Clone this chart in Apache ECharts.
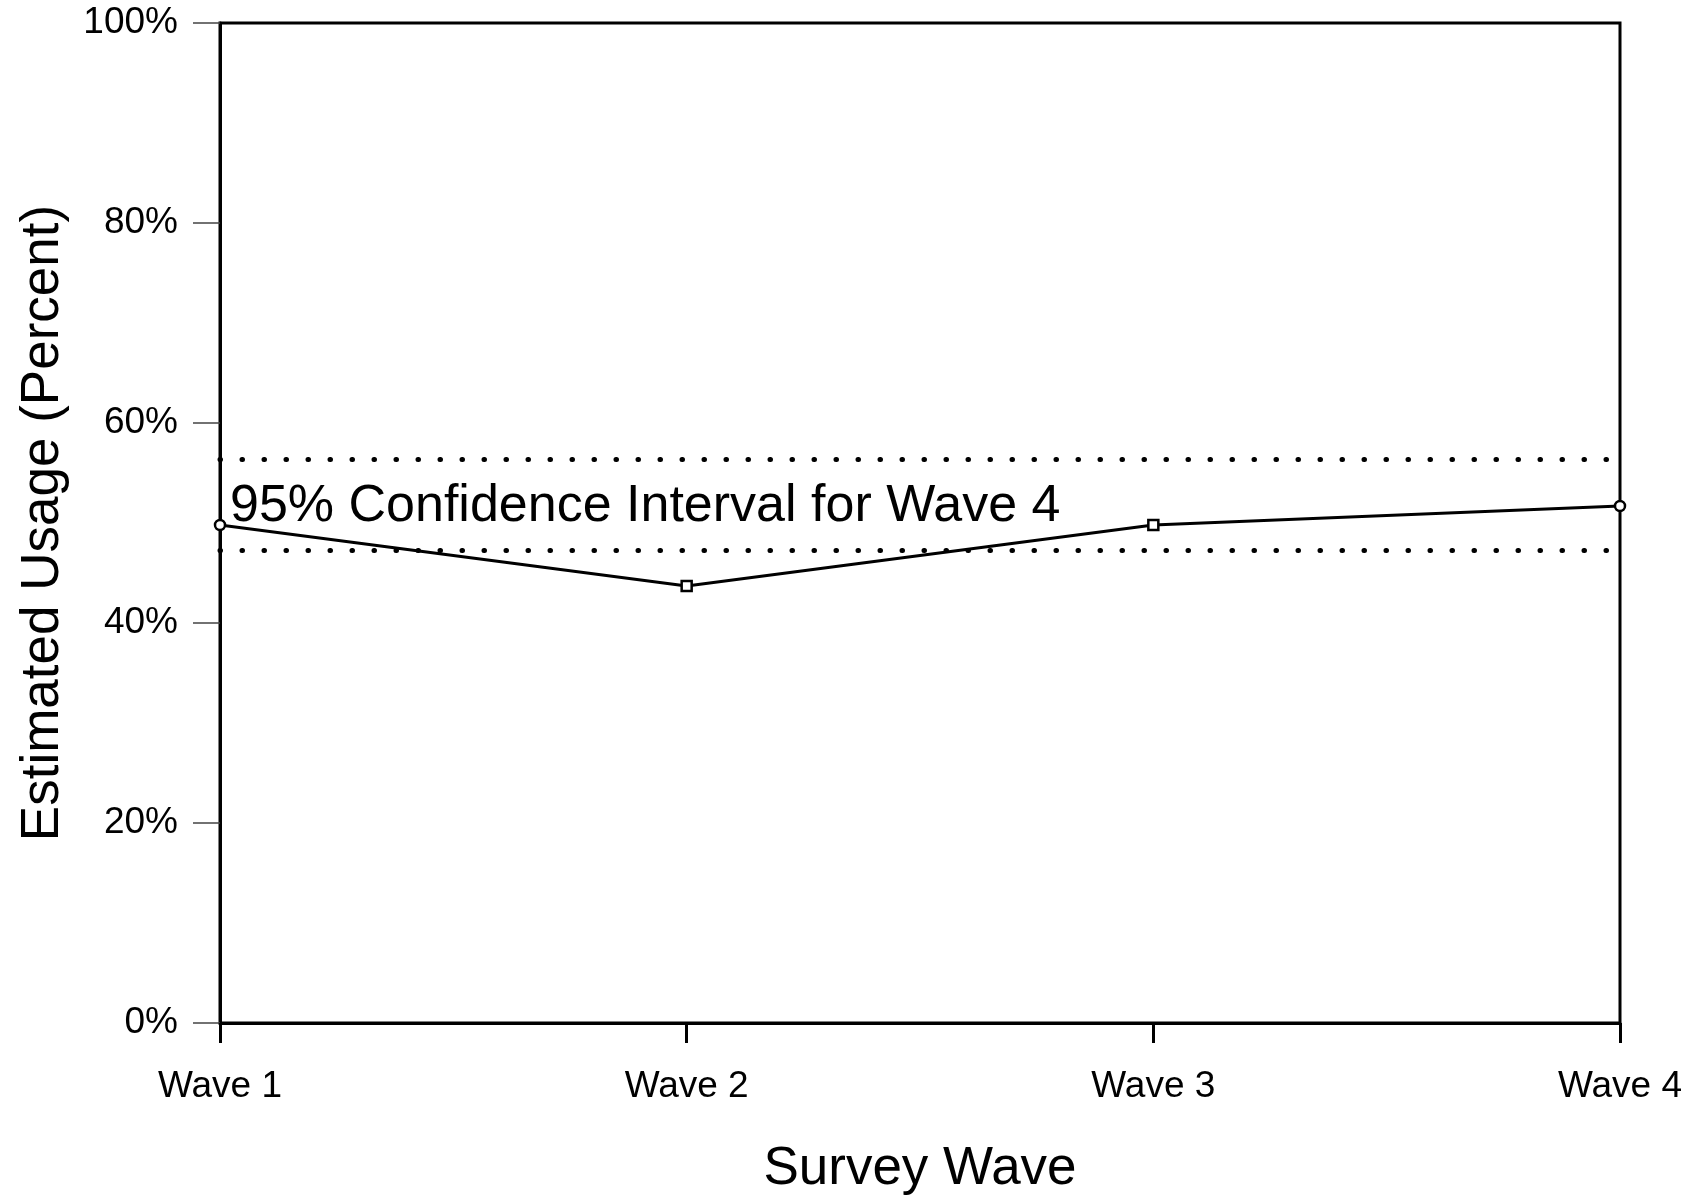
<!DOCTYPE html>
<html>
<head>
<meta charset="utf-8">
<script src="https://cdn.jsdelivr.net/npm/echarts@6/dist/echarts.min.js"></script>
<style>
html,body{margin:0;padding:0;background:#fff;}
#chart{width:1693px;height:1201px;}
</style>
</head>
<body>
<div id="chart"></div>
<script>
const categories = ['Wave 1', 'Wave 2', 'Wave 3', 'Wave 4'];
const usage = [49.8, 43.7, 49.8, 51.7];
const ciLower = [47.3];
const ciUpper = [56.4];
const yTicks = [0, 20, 40, 60, 80, 100];
const annotation = '95% Confidence Interval for Wave 4';
const markerShapes = ['circle', 'rect', 'rect', 'circle'];

const FONT = "'Liberation Sans', Arial, Helvetica, sans-serif";
const chart = echarts.init(document.getElementById('chart'));

const dotted = {color: '#000', width: 5, type: [0.5, 21.5], cap: 'round'};

chart.setOption({
  animation: false,
  backgroundColor: '#fff',
  grid: {left: 220, right: 73, top: 23, bottom: 175, show: true, borderColor: '#000', borderWidth: 3, backgroundColor: 'transparent'},
  xAxis: {
    type: 'category',
    data: categories,
    boundaryGap: false,
    name: 'Survey Wave',
    nameLocation: 'middle',
    nameGap: 120,
    nameTextStyle: {fontFamily: FONT, fontSize: 53, color: '#000'},
    axisLine: {show: true, lineStyle: {color: '#000', width: 3}},
    axisTick: {show: true, length: 20, lineStyle: {color: '#000', width: 3}},
    axisLabel: {fontFamily: FONT, fontSize: 37, color: '#000', margin: 45, interval: 0},
    splitLine: {show: false}
  },
  yAxis: {
    type: 'value',
    min: yTicks[0],
    max: yTicks[yTicks.length - 1],
    interval: 20,
    name: 'Estimated Usage (Percent)',
    nameLocation: 'middle',
    nameGap: 150,
    nameTextStyle: {fontFamily: FONT, fontSize: 53, color: '#000'},
    axisLine: {show: true, lineStyle: {color: '#000', width: 3}},
    axisTick: {show: true, length: 27, lineStyle: {color: '#444', width: 1.5}},
    axisLabel: {fontFamily: FONT, fontSize: 37, color: '#000', margin: 42, formatter: '{value}%'},
    splitLine: {show: false}
  },
  graphic: [{
    type: 'text',
    left: 230,
    top: 481,
    z: 10,
    style: {text: annotation, font: '52px ' + FONT, fill: '#000'}
  }],
  series: [{
    type: 'line',
    data: usage.map((v, i) => ({value: v, symbol: markerShapes[i]})),
    symbolSize: 10,
    lineStyle: {color: '#000', width: 3},
    itemStyle: {color: '#fff', borderColor: '#000', borderWidth: 2.5},
    z: 5,
    markLine: {
      silent: true,
      symbol: 'none',
      label: {show: false},
      lineStyle: dotted,
      data: [{yAxis: ciUpper[0]}, {yAxis: ciLower[0]}]
    }
  }]
});
</script>
</body>
</html>
